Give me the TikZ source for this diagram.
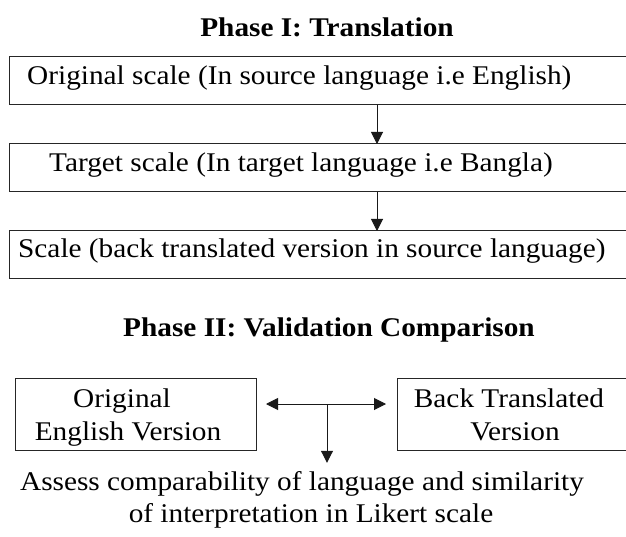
\documentclass[tikz,border=0pt]{standalone}
\usepackage{fontspec}
\setmainfont{Liberation Serif}[FakeStretch=1.085]
\usetikzlibrary{arrows.meta}

\newcommand{\bodyfont}{\fontsize{27}{32}\selectfont}

\tikzset{headtip/.tip={Triangle[length=12pt,width=12pt]}}

\begin{document}
\begin{tikzpicture}[x=1pt,y=-1pt,
  stepbox/.style={draw=black!85, line width=1pt, inner sep=0pt, outer sep=0pt, anchor=north west},
  txt/.style={inner sep=0pt, font=\bodyfont, text=black},
  heading/.style={inner sep=0pt, font=\bodyfont\bfseries, text=black, anchor=base},
  arr/.style={-headtip, line width=1pt, draw=black!90},
  biarr/.style={headtip-headtip, line width=1pt, draw=black!90}]

\useasboundingbox (0,0) rectangle (626,537);
\clip (0,0) rectangle (626,537);

% Phase I
\node[heading] (p1) at (327,37) {Phase I: Translation};

\node[stepbox, minimum width=640pt, minimum height=48pt] (b1) at (9,57) {};
\node[stepbox, minimum width=640pt, minimum height=48pt] (b2) at (9,144) {};
\node[stepbox, minimum width=640pt, minimum height=47pt] (b3) at (9,231) {};

\node[txt, anchor=base west] (t1) at (27,85) {Original scale (In source language i.e English)};
\node[txt, anchor=base west] (t2) at (49,172) {Target scale (In target language i.e Bangla)};
\node[txt, anchor=base west] (t3) at (18,258) {Scale (back translated version in source language)};

\coordinate (ax) at (377,0);
\draw[arr] (b1.south -| ax) -- (b2.north -| ax);
\draw[arr] (b2.south -| ax) -- (b3.north -| ax);

% Phase II
\node[heading] (p2) at (329,336) {Phase II: Validation Comparison};

\node[stepbox, minimum width=241pt, minimum height=72pt] (L) at (15,378) {};
\node[stepbox, minimum width=300pt, minimum height=72pt] (R) at (397,378) {};

\node[txt, anchor=base] (l1) at (122,407) {Original};
\node[txt, anchor=base] (l2) at (128,440) {English Version};
\node[txt, anchor=base] (r1) at (509,407) {Back Translated};
\node[txt, anchor=base] (r2) at (515,440) {Version};

\coordinate (ay) at (0,404);
\coordinate (j) at (327,404);
\draw[biarr] ([xshift=10pt]L.east |- ay) -- ([xshift=-11pt]R.west |- ay);

\node[txt, anchor=base, inner ysep=8pt] (a1) at (302,490) {Assess comparability of language and similarity};
\node[txt, anchor=base] (a2) at (311,522) {of interpretation in Likert scale};

\draw[arr] (j) -- (j |- a1.north);
\end{tikzpicture}
\end{document}
